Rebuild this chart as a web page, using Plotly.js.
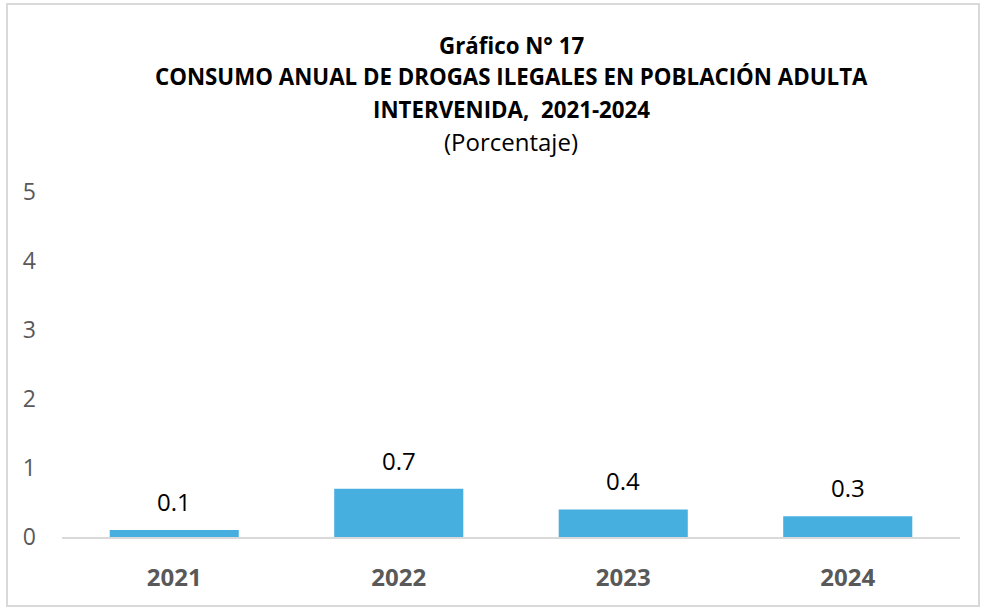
<!DOCTYPE html>
<html>
<head>
<meta charset="utf-8">
<script src="https://cdn.plot.ly/plotly-3.0.1.min.js"></script>
<style>
  body { margin: 0; background: #fff; }
  #plot { width: 987px; height: 608px; }
  #frame { position: absolute; left: 6px; top: 3px; width: 970px; height: 600px;
           border: 2px solid #d9d9d9; pointer-events: none; }
</style>
</head>
<body>
<div id="plot"></div>
<div id="frame"></div>
<script>
// Data
var years = ["2021", "2022", "2023", "2024"];
var consumo = [0.1, 0.7, 0.4, 0.3];
var yTicks = [0, 1, 2, 3, 4, 5];

var titleLines = [
  "<b>Gráfico N° 17</b>",
  "<b>CONSUMO ANUAL DE DROGAS ILEGALES EN POBLACIÓN ADULTA</b>",
  "<b>INTERVENIDA,  2021-2024</b>",
  "(Porcentaje)"
];
var titleY = [45, 76, 110, 141];

var trace1 = {
  x: years,
  y: consumo,
  type: "bar",
  marker: { color: "#47afdf" },
  hoverinfo: "x+y"
};

// value labels above each bar (x is the category index)
var labels = years.map(function (yr, i) {
  return {
    x: i, y: consumo[i], xref: "x", yref: "y",
    text: consumo[i].toFixed(1),
    showarrow: false, yanchor: "bottom", yshift: 10,
    font: { family: "Open Sans, sans-serif", size: 24, color: "#000" }
  };
});

// title lines as annotations (pixel positions from top of page)
var titles = titleLines.map(function (t, i) {
  return {
    x: 0.5, xref: "paper", yref: "paper",
    y: 1 + (192 - titleY[i]) / 345,
    text: t, showarrow: false, yanchor: "middle",
    font: { family: "Open Sans, sans-serif", size: i === 3 ? 24 : 22.3, color: "#000" }
  };
});

var layout = {
  width: 987,
  height: 608,
  margin: { l: 62, r: 27, t: 192, b: 71 },
  paper_bgcolor: "#fff",
  plot_bgcolor: "#fff",
  showlegend: false,
  bargap: 0.425,
  xaxis: {
    type: "category",
    showline: true, linecolor: "#d9d9d9", linewidth: 2,
    showgrid: false, ticks: "",
    ticklabelstandoff: 18,
    tickfont: { family: "Open Sans, sans-serif", size: 24, color: "#595959", weight: "bold" }
  },
  yaxis: {
    range: [0, 5],
    tickvals: yTicks,
    showgrid: false, zeroline: false, showline: false, ticks: "",
    ticklabelstandoff: 25,
    tickfont: { family: "Open Sans, sans-serif", size: 23, color: "#595959" }
  },
  annotations: titles.concat(labels)
};

Plotly.newPlot("plot", [trace1], layout, { displayModeBar: false });
</script>
</body>
</html>
